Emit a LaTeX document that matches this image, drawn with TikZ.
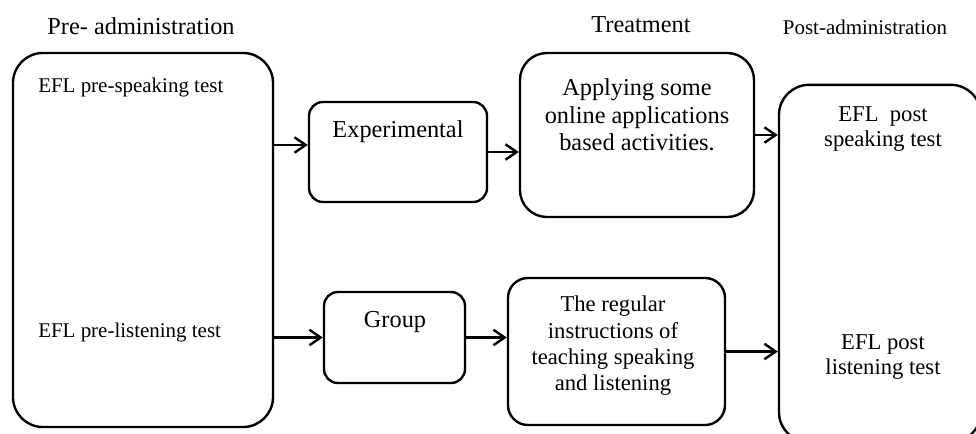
\documentclass[tikz,border=0pt]{standalone}
\usepackage{fontspec}
\setmainfont{Liberation Serif}
\usetikzlibrary{arrows.meta, calc}

\begin{document}
\begin{tikzpicture}[
    x=0.025cm, y=-0.025cm,
    box/.style   = {draw, rectangle, line width=1.7pt, inner sep=0pt},
    arr/.style   = {-{Straight Barb[length=8pt, width=11pt]}, line width=1.7pt},
    hdr/.style   = {font=\fontsize{17.3}{20}\selectfont, inner sep=0pt},
    big/.style   = {font=\fontsize{17.3}{19.6}\selectfont, align=center, inner sep=0pt},
    mid/.style   = {font=\fontsize{16.1}{18}\selectfont, align=center, inner sep=0pt},
    small/.style = {font=\fontsize{14.9}{17}\selectfont, inner sep=0pt}
  ]
    \useasboundingbox (0,0) rectangle (976,434);
    \clip (0,0) rectangle (976,434);

    % headings
    \node[hdr]   (hpre)   at (141,26) {Pre- administration};
    \node[hdr]   (htreat) at (641,25) {Treatment};
    \node[small] (hpost)  at (865,27) {Post-administration};

    % boxes
    \node[box, minimum width=6.5cm,   minimum height=9.35cm,  rounded corners=0.75cm]  (pre)    at (143,240)   {};
    \node[box, minimum width=4.45cm,  minimum height=2.5cm,   rounded corners=0.35cm]  (exp)    at (398,152)   {};
    \node[box, minimum width=5.85cm,  minimum height=4.1cm,   rounded corners=0.675cm] (treat1) at (637,135)   {};
    \node[box, minimum width=3.525cm, minimum height=2.275cm, rounded corners=0.35cm]  (group)  at (394.5,337.5) {};
    \node[box, minimum width=5.425cm, minimum height=3.675cm, rounded corners=0.5cm]   (treat2) at (616.5,351.5) {};
    \node[box, minimum width=5.05cm,  minimum height=8.93cm,  rounded corners=0.75cm]  (post)   at (880,263.5) {};

    % texts
    \node[small, anchor=base west] (prespk) at (38,92)  {EFL pre-speaking test};
    \node[small, anchor=base west] (prelis) at (38,337) {EFL pre-listening test};
    \node[big, anchor=base]  (exptxt) at (398,137) {Experimental};
    \node[big, anchor=base]  (grptxt) at (395,327) {Group};
    \node[big]  (t1txt) at (637,115) {Applying some\\online applications\\based activities.};
    \node[mid, font=\fontsize{16.1}{18.7}\selectfont] (t2txt) at (613,346)
          {The regular\\instructions of\\teaching speaking\\and listening};
    \node[mid]  (pspk)  at (883,129) {EFL\ \ post\\speaking test};
    \node[mid]  (plis)  at (883,357) {EFL post\\listening test};

    % arrows
    \coordinate (expin) at ($(exp.west)+(0,-7)$);
    \draw[arr] (expin -| pre.east) -- (expin);
    \draw[arr] (exp.east) -- (exp.east -| treat1.west);
    \draw[arr] (treat1.east) -- (treat1.east -| post.west);
    \draw[arr] (pre.east |- group.west) -- (group.west);
    \draw[arr] (group.east) -- (group.east -| treat2.west);
    \draw[arr] (treat2.east) -- (treat2.east -| post.west);
\end{tikzpicture}
\end{document}
